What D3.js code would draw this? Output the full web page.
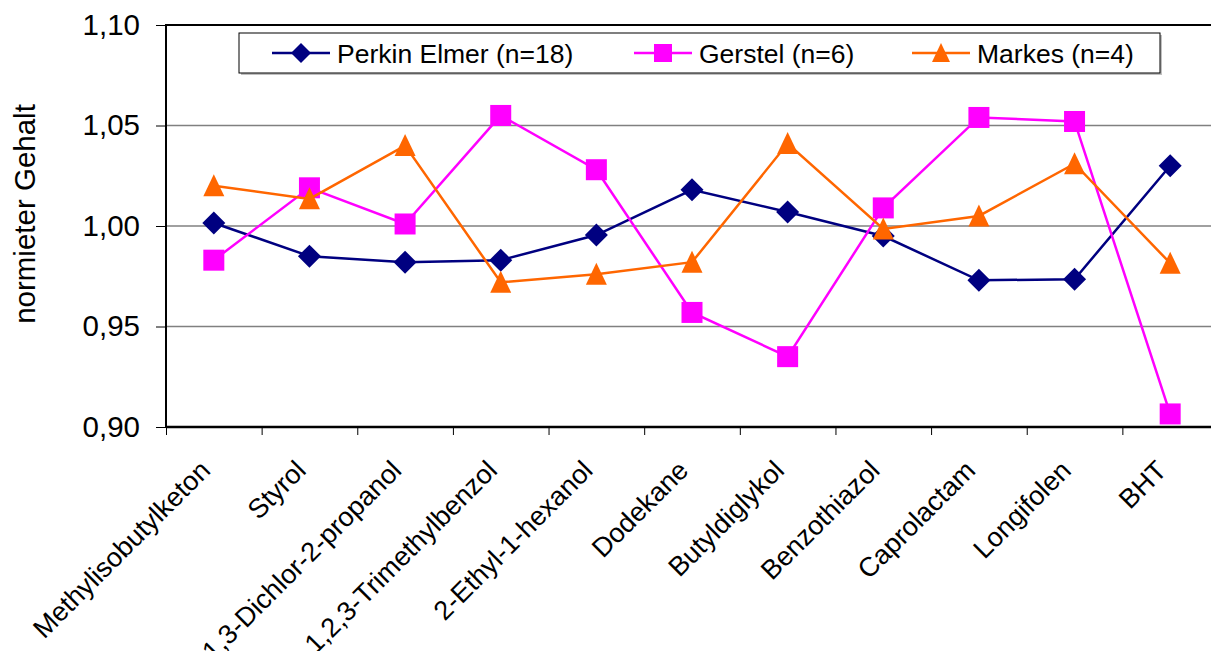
<!DOCTYPE html>
<html><head><meta charset="utf-8">
<script src="https://cdn.jsdelivr.net/npm/d3@7"></script>
<style>body{margin:0;background:#fff;overflow:hidden}svg{display:block}text{font-family:Arial,"Liberation Sans",sans-serif;fill:#000}</style>
</head><body><svg id="c" width="1211" height="651"></svg>
<script>
const categories = ["Methylisobutylketon","Styrol","1,3-Dichlor-2-propanol","1,2,3-Trimethylbenzol","2-Ethyl-1-hexanol","Dodekane","Butyldiglykol","Benzothiazol","Caprolactam","Longifolen","BHT"];
const perkinElmer = [1.0015,0.985,0.982,0.983,0.9955,1.018,1.007,0.995,0.973,0.9735,1.030];
const gerstel = [0.983,1.019,1.001,1.055,1.028,0.957,0.935,1.009,1.054,1.052,0.9065];
const markes = [1.020,1.0135,1.040,0.972,0.976,0.982,1.041,0.9985,1.005,1.031,0.9815];
const seriesNames = ["Perkin Elmer (n=18)","Gerstel (n=6)","Markes (n=4)"];
const yTicks = [0.90,0.95,1.00,1.05,1.10];

const series = [
  {name: seriesNames[0], values: perkinElmer, color: "#000080", shape: "diamond"},
  {name: seriesNames[1], values: gerstel, color: "#FF00FF", shape: "square"},
  {name: seriesNames[2], values: markes, color: "#FF6600", shape: "triangle"}
];

const svg = d3.select("#c");
const L = 166, R = 1218, T = 25, B = 427;
const x = d3.scaleBand().domain(categories).range([L, R]);
const xb = d3.scaleLinear().domain([0, categories.length]).range([L, R]);
const y = d3.scaleLinear().domain([0.9, 1.1]).range([B, T]);
const fmt = d => d3.format(".2f")(d).replace(".", ",");

svg.append("g").selectAll("line").data(yTicks.filter(v => v > 0.9 && v < 1.1)).join("line")
  .attr("x1", L).attr("x2", R).attr("y1", d => y(d)).attr("y2", d => y(d))
  .attr("stroke", "#808080").attr("stroke-width", 1.3);

const ya = svg.append("g").attr("transform", `translate(${L},0)`)
  .call(d3.axisLeft(y).tickValues(yTicks).tickSize(10).tickPadding(16).tickFormat(fmt));
ya.select(".domain").remove();
ya.selectAll(".tick line").attr("stroke", "#000").attr("stroke-width", 1);
ya.selectAll(".tick text").attr("font-size", 29.5).attr("font-family", "Arial, 'Liberation Sans', sans-serif").attr("fill", "#000");

const xa = svg.append("g").attr("transform", `translate(0,${B})`)
  .call(d3.axisBottom(xb).tickValues(d3.range(0, categories.length + 1)).tickSize(8).tickFormat(""));
xa.select(".domain").remove();
xa.selectAll(".tick line").attr("stroke", "#000").attr("stroke-width", 1);

const xl = svg.append("g").attr("transform", `translate(0,${B})`)
  .call(d3.axisBottom(x).tickSize(0).tickPadding(0));
xl.select(".domain").remove();
xl.selectAll(".tick text")
  .attr("font-size", 27).attr("font-family", "Arial, 'Liberation Sans', sans-serif").attr("fill", "#000")
  .attr("text-anchor", "end").attr("dy", null).attr("y", 0)
  .attr("transform", "translate(-2,45) rotate(-45)");

svg.append("path").attr("d", `M${L},${B}V${T}H${R}`).attr("fill", "none").attr("stroke", "#000").attr("stroke-width", 2);
svg.append("line").attr("x1", L).attr("x2", R).attr("y1", B).attr("y2", B).attr("stroke", "#000").attr("stroke-width", 2.5);

function drawMarker(g, shape, color, cx, cy, s) {
  const h = s / 2;
  if (shape === "diamond") {
    g.append("path").attr("d", `M${cx},${cy - h}L${cx + h},${cy}L${cx},${cy + h}L${cx - h},${cy}Z`).attr("fill", color);
  } else if (shape === "square") {
    g.append("rect").attr("x", cx - h).attr("y", cy - h).attr("width", s).attr("height", s).attr("fill", color);
  } else {
    g.append("path").attr("d", `M${cx},${cy - h - 1}L${cx + h},${cy + h}L${cx - h},${cy + h}Z`).attr("fill", color);
  }
}

const line = d3.line().x((d, i) => x(categories[i]) + x.bandwidth() / 2).y(d => y(d));
series.forEach(s => {
  const g = svg.append("g");
  g.append("path").attr("d", line(s.values)).attr("fill", "none").attr("stroke", s.color).attr("stroke-width", 2.5);
  s.values.forEach((v, i) => drawMarker(g, s.shape, s.color, x(categories[i]) + x.bandwidth() / 2, y(v), s.shape === "diamond" ? 23 : 21));
});

svg.append("text").attr("transform", "translate(35,214) rotate(-90)").attr("text-anchor", "middle")
  .attr("font-size", 29.5).text("normieter Gehalt");

const lg = svg.append("g");
lg.append("rect").attr("x", 241).attr("y", 35).attr("width", 921).attr("height", 40).attr("fill", "#c0c0c0");
lg.append("rect").attr("x", 239).attr("y", 33).attr("width", 921).attr("height", 40).attr("fill", "#fff").attr("stroke", "#000").attr("stroke-width", 1);
const legX = [272, 634, 912];
series.forEach((s, i) => {
  const lx = legX[i], ly = 53;
  lg.append("line").attr("x1", lx).attr("x2", lx + 58).attr("y1", ly).attr("y2", ly).attr("stroke", s.color).attr("stroke-width", 2.5);
  drawMarker(lg, s.shape, s.color, lx + 29, ly, s.shape === "diamond" ? 20 : 18);
  lg.append("text").attr("x", lx + 65).attr("y", ly + 9.5).attr("font-size", 26.5).text(s.name);
});
</script></body></html>
